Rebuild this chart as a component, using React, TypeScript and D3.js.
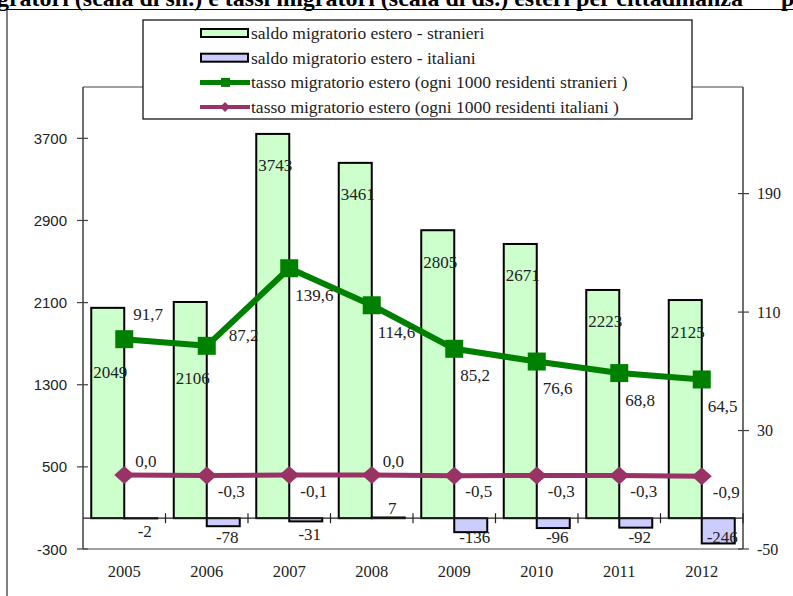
import * as d3 from 'd3'

// anni e valori
const years = ['2005', '2006', '2007', '2008', '2009', '2010', '2011', '2012']
const saldoStranieri = [2049, 2106, 3743, 3461, 2805, 2671, 2223, 2125]
const saldoItaliani = [-2, -78, -31, 7, -136, -96, -92, -246]
const tassoStranieri = [91.7, 87.2, 139.6, 114.6, 85.2, 76.6, 68.8, 64.5]
const tassoItaliani = [0.0, -0.3, -0.1, 0.0, -0.5, -0.3, -0.3, -0.9]

const leftTicks = [-300, 500, 1300, 2100, 2900, 3700]
const rightTicks = [-50, 30, 110, 190]

const legendLabels = [
  'saldo migratorio estero - stranieri',
  'saldo migratorio estero - italiani',
  'tasso migratorio estero (ogni 1000 residenti stranieri )',
  'tasso migratorio estero (ogni 1000 residenti italiani )',
]

const W = 793
const H = 596
const plot = { left: 83, right: 743, top: 87, bottom: 549 }

const GREEN_FILL = '#ccffcc'
const BLUE_FILL = '#ccccff'
const GREEN = '#008000'
const PURPLE = '#993366'
const serif = '"Liberation Serif", "Times New Roman", serif'
const sans = '"Liberation Sans", Arial, sans-serif'

const it = d3.formatLocale({ decimal: ',', thousands: '.', grouping: [3], currency: ['', '€'], minus: '-' })
const fmt1 = it.format('.1f')

export default function App() {
  const x = d3.scaleBand<string>().domain(years).range([plot.left, plot.right])
  const yL = d3.scaleLinear().domain([-300, 4200]).range([plot.bottom, plot.top])
  const yR = d3.scaleLinear().domain([-50, 262]).range([plot.bottom, plot.top])
  const bw = x.bandwidth()
  const cx = (i: number) => (x(years[i]) as number) + bw / 2
  const y0 = yL(0)

  const greenPath = d3.line<number>().x((_, i) => cx(i)).y((d) => yR(d))(tassoStranieri) || ''
  const purplePath = d3.line<number>().x((_, i) => cx(i)).y((d) => yR(d))(tassoItaliani) || ''

  const diamond = 'M0,-9L10,0L0,9L-10,0Z'
  const smallDiamond = 'M0,-5L5,0L0,5L-5,0Z'

  // etichette delle barre verdi: sotto il marcatore se ci finiscono sopra
  const barLabels = saldoStranieri.map((v, i) => {
    const markerY = yR(tassoStranieri[i])
    const ly = yL(v) + 32
    const clash = Math.abs(ly - markerY) < 22
    return { v, y: clash ? markerY + 33 : ly, clash }
  })

  // posizione etichetta della linea verde
  const greenLabel = (v: number, i: number) => {
    if (!barLabels[i].clash) return { dx: 6, dy: 27 }
    const next = tassoStranieri[i + 1] ?? v
    return next > v + 10 ? { dx: 22, dy: -10 } : { dx: 9, dy: -25 }
  }

  return (
    <svg width={W} height={H} style={{ position: 'absolute', left: 0, top: 0, background: '#fff' }}>
      {/* titolo tagliato in alto */}
      <text x={743} y={6} textAnchor="end" fontFamily={serif} fontWeight="bold" fontSize={24}>
        Saldi migratori (scala di sn.) e tassi migratori (scala di ds.) esteri per cittadinanza
      </text>
      <text x={781} y={6} fontFamily={serif} fontWeight="bold" fontSize={24}>p</text>

      {/* cornice */}
      <path d={`M7,${H}V9.5H${W}`} fill="none" stroke="#000" strokeWidth={1} />

      {/* area del grafico */}
      <line x1={plot.left} x2={plot.right} y1={plot.top} y2={plot.top} stroke="#808080" strokeWidth={1.5} />
      <line x1={plot.left} x2={plot.right} y1={plot.bottom} y2={plot.bottom} stroke="#808080" strokeWidth={1.5} />
      <line x1={plot.left} x2={plot.left} y1={plot.top} y2={plot.bottom} stroke="#404040" strokeWidth={1.5} />
      <line x1={plot.right} x2={plot.right} y1={plot.top} y2={plot.bottom} stroke="#404040" strokeWidth={1.5} />

      {/* asse sinistro */}
      {leftTicks.map((t) => (
        <g key={'l' + t}>
          <line x1={plot.left - 6} x2={plot.left + 5} y1={yL(t)} y2={yL(t)} stroke="#404040" strokeWidth={1.2} />
          <text x={67} y={yL(t)} textAnchor="end" dominantBaseline="central" fontFamily={sans} fontSize={15} fill="#222">
            {t}
          </text>
        </g>
      ))}

      {/* asse destro */}
      {rightTicks.map((t) => (
        <g key={'r' + t}>
          <line x1={plot.right - 5} x2={plot.right + 6} y1={yR(t)} y2={yR(t)} stroke="#404040" strokeWidth={1.2} />
          <text x={757} y={yR(t)} dominantBaseline="central" fontFamily={serif} fontSize={16} fill="#222">
            {t}
          </text>
        </g>
      ))}

      {/* etichette anni */}
      {years.map((yr, i) => (
        <text key={yr} x={cx(i)} y={571} textAnchor="middle" dominantBaseline="central" fontFamily={serif} fontSize={16.5} fill="#222">
          {yr}
        </text>
      ))}

      {/* barre stranieri */}
      {saldoStranieri.map((v, i) => (
        <rect key={'s' + i} x={(x(years[i]) as number) + bw * 0.1} width={bw * 0.4} y={yL(v)} height={y0 - yL(v)}
          fill={GREEN_FILL} stroke="#000" strokeWidth={2} />
      ))}
      {/* barre italiani */}
      {saldoItaliani.map((v, i) => (
        <rect key={'i' + i} x={cx(i)} width={bw * 0.4} y={Math.min(yL(v), y0)} height={Math.abs(yL(v) - y0)}
          fill={BLUE_FILL} stroke="#000" strokeWidth={2} />
      ))}

      {/* asse categorie sullo zero */}
      <line x1={plot.left} x2={plot.right} y1={y0} y2={y0} stroke="#222" strokeWidth={1.2} />
      {years.map((yr) => (
        <line key={'t' + yr} x1={(x(yr) as number) + bw} x2={(x(yr) as number) + bw} y1={y0 - 5} y2={y0 + 5}
          stroke="#222" strokeWidth={1.2} />
      ))}

      {/* linee */}
      <path d={greenPath} fill="none" stroke={GREEN} strokeWidth={6} strokeLinejoin="round" />
      {tassoStranieri.map((v, i) => (
        <rect key={'gm' + i} x={cx(i) - 9} y={yR(v) - 9} width={18} height={18} fill={GREEN} />
      ))}
      <path d={purplePath} fill="none" stroke={PURPLE} strokeWidth={5} strokeLinejoin="round" />
      {tassoItaliani.map((v, i) => (
        <path key={'pm' + i} d={diamond} transform={`translate(${cx(i)},${yR(v)})`} fill={PURPLE} />
      ))}

      {/* etichette dati */}
      <g fontFamily={serif} fontSize={17} fill="#222" dominantBaseline="central">
        {barLabels.map((b, i) => (
          <text key={'ls' + i} x={(x(years[i]) as number) + bw * 0.1 + 2} y={b.y}>{b.v}</text>
        ))}
        {saldoItaliani.map((v, i) => {
          const ly = v >= 0 ? yL(v) - 9 : Math.min(yL(v) + 13, 537)
          return (
            <text key={'li' + i} x={cx(i) + bw * 0.2 + 4} y={ly} textAnchor="middle">{v}</text>
          )
        })}
        {tassoStranieri.map((v, i) => {
          const p = greenLabel(v, i)
          return (
            <text key={'lg' + i} x={cx(i) + p.dx} y={yR(v) + p.dy}>{fmt1(v)}</text>
          )
        })}
        {tassoItaliani.map((v, i) => (
          <text key={'lp' + i} x={cx(i) + 11} y={yR(v) + (v >= 0 ? -13 : 16)}>{fmt1(v)}</text>
        ))}
      </g>

      {/* legenda */}
      <rect x={143} y={20} width={549} height={99} fill="#fff" stroke="#000" strokeWidth={1.2} />
      {legendLabels.map((lab, i) => {
        const ry = 33 + i * 24.7
        return (
          <g key={'lg' + lab}>
            {i === 0 && <rect x={201} y={ry - 4} width={47} height={8} fill={GREEN_FILL} stroke="#000" strokeWidth={2} />}
            {i === 1 && <rect x={201} y={ry - 4} width={47} height={8} fill={BLUE_FILL} stroke="#000" strokeWidth={2} />}
            {i === 2 && (
              <g>
                <line x1={200} x2={250} y1={ry} y2={ry} stroke={GREEN} strokeWidth={5} />
                <rect x={221} y={ry - 4.5} width={9} height={9} fill={GREEN} />
              </g>
            )}
            {i === 3 && (
              <g>
                <line x1={200} x2={250} y1={ry} y2={ry} stroke={PURPLE} strokeWidth={4} />
                <path d={smallDiamond} transform={`translate(225,${ry})`} fill={PURPLE} />
              </g>
            )}
            <text x={251} y={ry} dominantBaseline="central" fontFamily={serif} fontSize={17.5} fill="#222">{lab}</text>
          </g>
        )
      })}
    </svg>
  )
}
